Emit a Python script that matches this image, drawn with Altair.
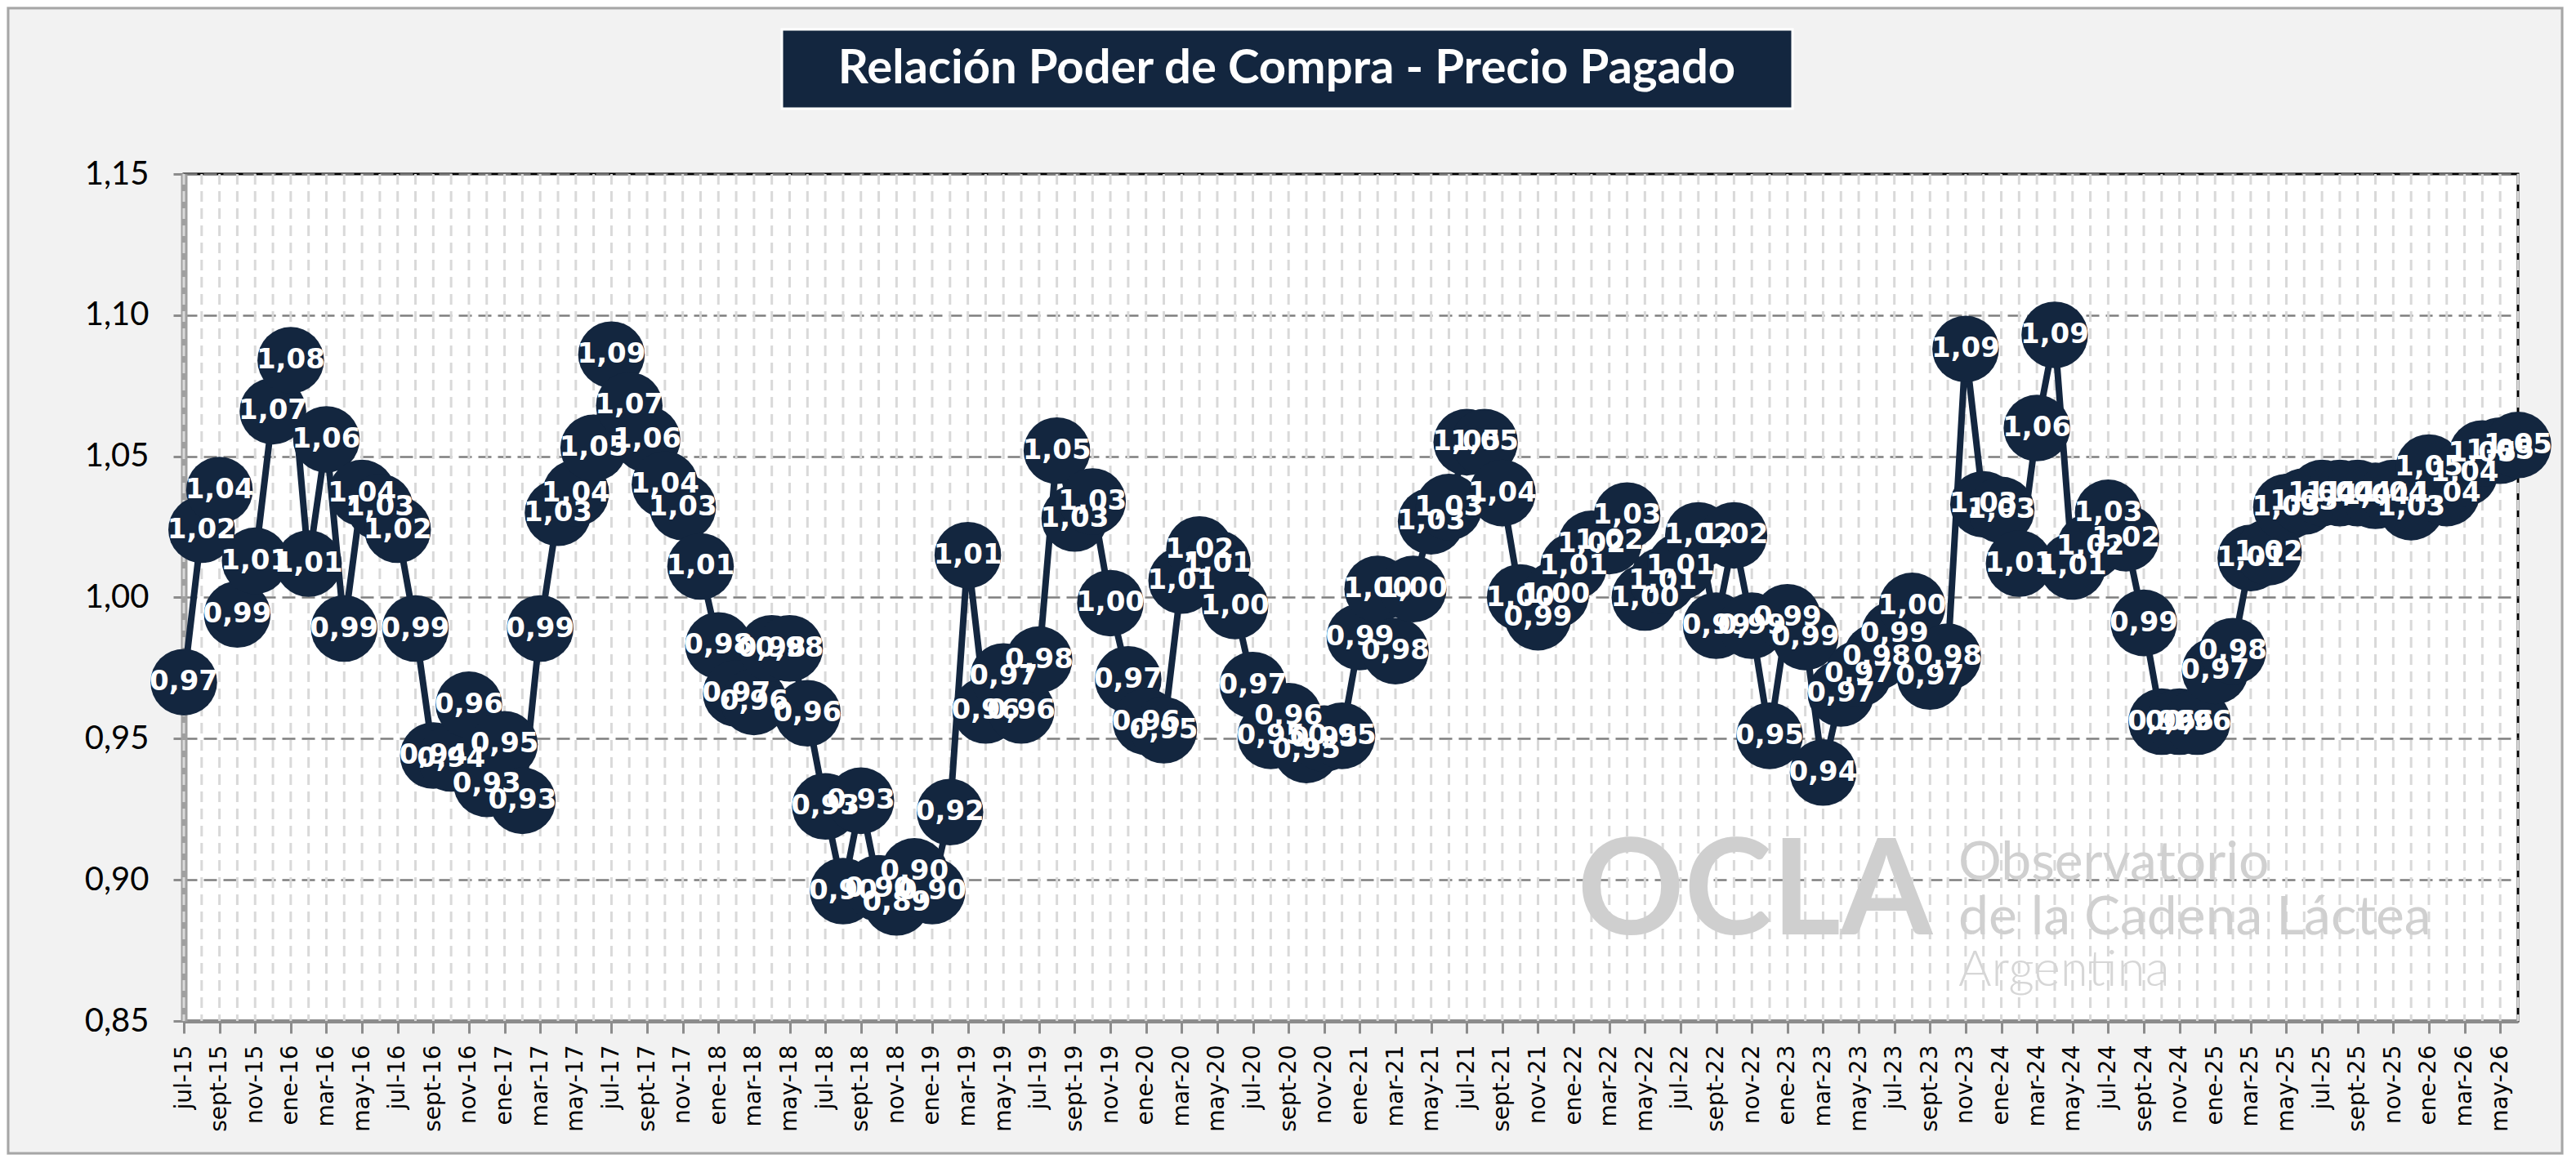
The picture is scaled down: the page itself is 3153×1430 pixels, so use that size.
import altair as alt
import pandas as pd

# ---------------- data ----------------
meses_abrev = ["ene", "feb", "mar", "abr", "may", "jun",
               "jul", "ago", "sept", "oct", "nov", "dic"]
anio_inicio = 2015
mes_inicio = 7  # julio

valores = [
    # 2015 jul-dic
    0.970, 1.024, 1.038, 0.994, 1.013, 1.066,
    # 2016
    1.084, 1.012, 1.056, 0.989, 1.037, 1.032, 1.024, 0.989, 0.944, 0.943, 0.962, 0.934,
    # 2017
    0.948, 0.928, 0.989, 1.030, 1.037, 1.053, 1.086, 1.068, 1.056, 1.040, 1.032, 1.011,
    # 2018
    0.983, 0.966, 0.963, 0.982, 0.982, 0.959, 0.926, 0.896, 0.928, 0.897, 0.892, 0.903,
    # 2019
    0.896, 0.924, 1.015, 0.960, 0.972, 0.960, 0.978, 1.052, 1.028, 1.034, 0.998, 0.971,
    # 2020
    0.956, 0.953, 1.006, 1.017, 1.012, 0.997, 0.969, 0.951, 0.958, 0.946, 0.950, 0.951,
    # 2021
    0.986, 1.003, 0.981, 1.003, 1.027, 1.032, 1.055, 1.055, 1.037, 1.000, 0.993, 1.001,
    # 2022
    1.011, 1.019, 1.020, 1.029, 1.000, 1.006, 1.011, 1.022, 0.990, 1.022, 0.990, 0.951,
    # 2023
    0.993, 0.986, 0.938, 0.966, 0.973, 0.979, 0.987, 0.997, 0.972, 0.979, 1.088, 1.033,
    # 2024
    1.031, 1.012, 1.060, 1.093, 1.011, 1.018, 1.030, 1.021, 0.991, 0.956, 0.956, 0.956,
    # 2025
    0.974, 0.981, 1.014, 1.016, 1.032, 1.034, 1.037, 1.037, 1.037, 1.036, 1.037, 1.032,
    # 2026 ene-jun
    1.046, 1.037, 1.044, 1.051, 1.052, 1.054,
]

meses = []
for k in range(len(valores)):
    m = (mes_inicio - 1 + k) % 12
    a = anio_inicio + (mes_inicio - 1 + k) // 12
    meses.append(f"{meses_abrev[m]}-{a % 100:02d}")

etiquetas = [f"{v:.2f}".replace(".", ",") for v in valores]
y_ticks = [0.85, 0.90, 0.95, 1.00, 1.05, 1.10, 1.15]

titulo = "Relación Poder de Compra - Precio Pagado"

df = pd.DataFrame({"mes": meses, "valor": valores, "etiqueta": etiquetas})

# ---------------- style ----------------
NAVY = "#13263F"
W, H = 2857, 1037

x_enc = alt.X(
    "mes:O",
    sort=meses,
    title=None,
    scale=alt.Scale(type="point", padding=0),
    axis=alt.Axis(
        values=meses[::2],
        labelAngle=-90,
        labelFont="DejaVu Sans",
        labelFontSize=28,
        labelColor="#000000",
        labelPadding=14,
        tickSize=15,
        tickWidth=3,
        tickColor="#8C8C8C",
        domainColor="#8C8C8C",
        domainWidth=5,
        grid=False,
    ),
)

y_enc = alt.Y(
    "valor:Q",
    title=None,
    scale=alt.Scale(domain=[0.85, 1.15], nice=False, zero=False),
    axis=alt.Axis(
        values=y_ticks,
        labelExpr="replace(format(datum.value, '.2f'), '.', ',')",
        labelFont="Lato",
        labelFontSize=40,
        labelColor="#000000",
        labelPadding=30,
        tickSize=13,
        tickWidth=3,
        tickColor="#8C8C8C",
        domainColor="#A0A0A0",
        domainWidth=8,
        grid=True,
        gridColor="#7F7F7F",
        gridWidth=2.5,
        gridDash=[16, 8],
    ),
)

base = alt.Chart(df)

grid_v = base.mark_rule(color="#D9D9D9", strokeWidth=3, strokeDash=[13, 8]).encode(x=x_enc)

one = alt.Data(values=[{"k": 1}])

wm_ocla = alt.Chart(one).mark_text(
    text="OCLA", font="Lato", fontWeight="bold", fontSize=162,
    color="#CFCFCF", align="center", baseline="alphabetic",
).encode(x=alt.value(1923), y=alt.value(931))

wm_obs = alt.Chart(one).mark_text(
    text="Observatorio", font="Lato", fontSize=66,
    color="#D0D0D0", align="left", baseline="alphabetic",
).encode(x=alt.value(2172), y=alt.value(864))

wm_cad = alt.Chart(one).mark_text(
    text="de la Cadena Láctea", font="Lato", fontSize=66,
    color="#D0D0D0", align="left", baseline="alphabetic",
).encode(x=alt.value(2172), y=alt.value(931))

wm_arg = alt.Chart(one).mark_text(
    text="Argentina", font="Lato", fontWeight=300, fontSize=62,
    color="#D6D6D6", align="left", baseline="alphabetic",
).encode(x=alt.value(2172), y=alt.value(994))

linea = base.mark_line(color=NAVY, strokeWidth=8).encode(x=x_enc, y=y_enc)
puntos = base.mark_circle(color=NAVY, opacity=1, size=6650).encode(x=x_enc, y=y_enc)
textos = base.mark_text(
    font="DejaVu Sans", fontWeight="bold", fontSize=34, color="#FFFFFF",
    align="center", baseline="middle",
).encode(x=x_enc, y=y_enc, text="etiqueta:N")

caja_titulo = alt.Chart(one).mark_rect(
    color=NAVY, stroke="#FFFFFF", strokeWidth=3
).encode(x=alt.value(732), x2=alt.value(1969), y=alt.value(-177), y2=alt.value(-80))

texto_titulo = alt.Chart(one).mark_text(
    text=titulo, font="Lato", fontWeight="bold", fontSize=58,
    color="#FFFFFF", align="center", baseline="middle",
).encode(x=alt.value(1350), y=alt.value(-128))

borde = alt.Chart(one).mark_rect(
    filled=False, stroke="#A6A6A6", strokeWidth=3
).encode(x=alt.value(-215), x2=alt.value(2911), y=alt.value(-203), y2=alt.value(1199))

chart = alt.layer(
    borde, grid_v, wm_ocla, wm_obs, wm_cad, wm_arg,
    linea, puntos, textos, caja_titulo, texto_titulo,
).properties(
    width=W,
    height=H,
    autosize=alt.AutoSizeParams(type="none"),
    padding={"left": 217, "top": 205, "right": 56, "bottom": 164},
    background="#F2F2F2",
).configure_view(
    stroke="#000000",
    strokeWidth=3,
    fill="#FFFFFF",
)

chart.save("out.html", embed_options={"renderer": "svg", "actions": False})
